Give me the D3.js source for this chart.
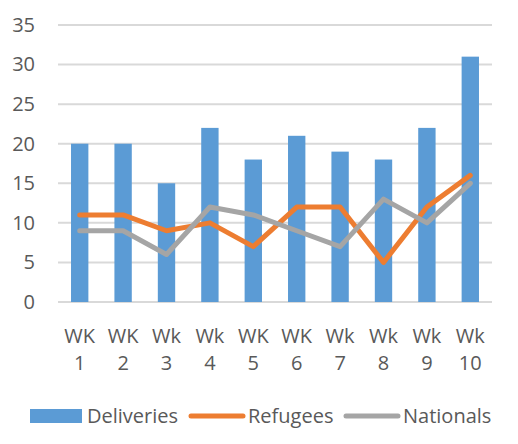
<!DOCTYPE html>
<html>
<head>
<meta charset="utf-8">
<script src="https://cdn.jsdelivr.net/npm/d3@7"></script>
<style>
  body { margin: 0; background: #fff; }
  text { font-family: "Open Sans", "Noto Sans", sans-serif; fill: #595959; }
</style>
</head>
<body>
<script>
// chart data
var weeks = ["WK 1", "WK 2", "Wk 3", "Wk 4", "WK 5", "WK 6", "Wk 7", "Wk 8", "Wk 9", "Wk 10"];
var deliveries = [20, 20, 15, 22, 18, 21, 19, 18, 22, 31];
var refugees = [11, 11, 9, 10, 7, 12, 12, 5, 12, 16];
var nationals = [9, 9, 6, 12, 11, 9, 7, 13, 10, 15];
var yTicks = [0, 5, 10, 15, 20, 25, 30, 35];

var svgWidth = 518;
var svgHeight = 444;

var margin = { top: 25, right: 26, bottom: 142, left: 58 };
var chartWidth = svgWidth - margin.left - margin.right;
var chartHeight = svgHeight - margin.top - margin.bottom;

var svg = d3.select("body")
    .append("svg")
    .attr("width", svgWidth)
    .attr("height", svgHeight);

var chartGroup = svg.append("g")
    .attr("transform", `translate(${margin.left}, ${margin.top})`);

var xScale = d3.scaleBand()
    .domain(weeks)
    .range([0, chartWidth])
    .paddingInner(0.6)
    .paddingOuter(0.3);

var yScale = d3.scaleLinear()
    .domain([0, 35])
    .range([chartHeight, 0]);

// gridlines
chartGroup.append("g")
    .selectAll("line")
    .data(yTicks)
    .enter()
    .append("line")
    .attr("x1", 0)
    .attr("x2", chartWidth)
    .attr("y1", d => yScale(d))
    .attr("y2", d => yScale(d))
    .attr("stroke", "#d9d9d9")
    .attr("stroke-width", 2);

// y axis labels
var leftAxis = d3.axisLeft(yScale).tickValues(yTicks).tickSize(0).tickPadding(23);
var yAxis = chartGroup.append("g").call(leftAxis);
yAxis.select(".domain").remove();
yAxis.selectAll("text")
    .style("font-size", "20px")
    .attr("fill", "#595959")
    .style("font-family", "'Open Sans', sans-serif");

// bars
chartGroup.selectAll("rect.bar")
    .data(deliveries)
    .enter()
    .append("rect")
    .attr("class", "bar")
    .attr("x", (d, i) => xScale(weeks[i]))
    .attr("y", d => yScale(d))
    .attr("width", xScale.bandwidth())
    .attr("height", d => chartHeight - yScale(d))
    .attr("fill", "#5b9bd5");

var line = d3.line()
    .x((d, i) => xScale(weeks[i]) + xScale.bandwidth() / 2)
    .y(d => yScale(d));

chartGroup.append("path")
    .datum(refugees)
    .attr("d", line)
    .attr("fill", "none")
    .attr("stroke", "#ed7d31")
    .attr("stroke-width", 5)
    .attr("stroke-linecap", "round")
    .attr("stroke-linejoin", "round");

chartGroup.append("path")
    .datum(nationals)
    .attr("d", line)
    .attr("fill", "none")
    .attr("stroke", "#a5a5a5")
    .attr("stroke-width", 5)
    .attr("stroke-linecap", "round")
    .attr("stroke-linejoin", "round");

// x labels on two lines
var xLabels = chartGroup.append("g")
    .selectAll("text")
    .data(weeks)
    .enter()
    .append("text")
    .attr("text-anchor", "middle")
    .style("font-size", "20px");

xLabels.append("tspan")
    .attr("x", d => xScale(d) + xScale.bandwidth() / 2)
    .attr("y", chartHeight + 41)
    .text(d => d.split(" ")[0]);

xLabels.append("tspan")
    .attr("x", d => xScale(d) + xScale.bandwidth() / 2)
    .attr("y", chartHeight + 68)
    .text(d => d.split(" ")[1]);

// legend
var legend = svg.append("g");
legend.append("rect")
    .attr("x", 30).attr("y", 409)
    .attr("width", 52).attr("height", 14)
    .attr("fill", "#5b9bd5");
legend.append("text")
    .attr("x", 87).attr("y", 423)
    .style("font-size", "20px")
    .text("Deliveries");

legend.append("line")
    .attr("x1", 191).attr("x2", 243)
    .attr("y1", 416).attr("y2", 416)
    .attr("stroke", "#ed7d31").attr("stroke-width", 5)
    .attr("stroke-linecap", "round");
legend.append("text")
    .attr("x", 248).attr("y", 423)
    .style("font-size", "20px")
    .text("Refugees");

legend.append("line")
    .attr("x1", 346).attr("x2", 398)
    .attr("y1", 416).attr("y2", 416)
    .attr("stroke", "#a5a5a5").attr("stroke-width", 5)
    .attr("stroke-linecap", "round");
legend.append("text")
    .attr("x", 403).attr("y", 423)
    .style("font-size", "20px")
    .text("Nationals");
</script>
</body>
</html>
